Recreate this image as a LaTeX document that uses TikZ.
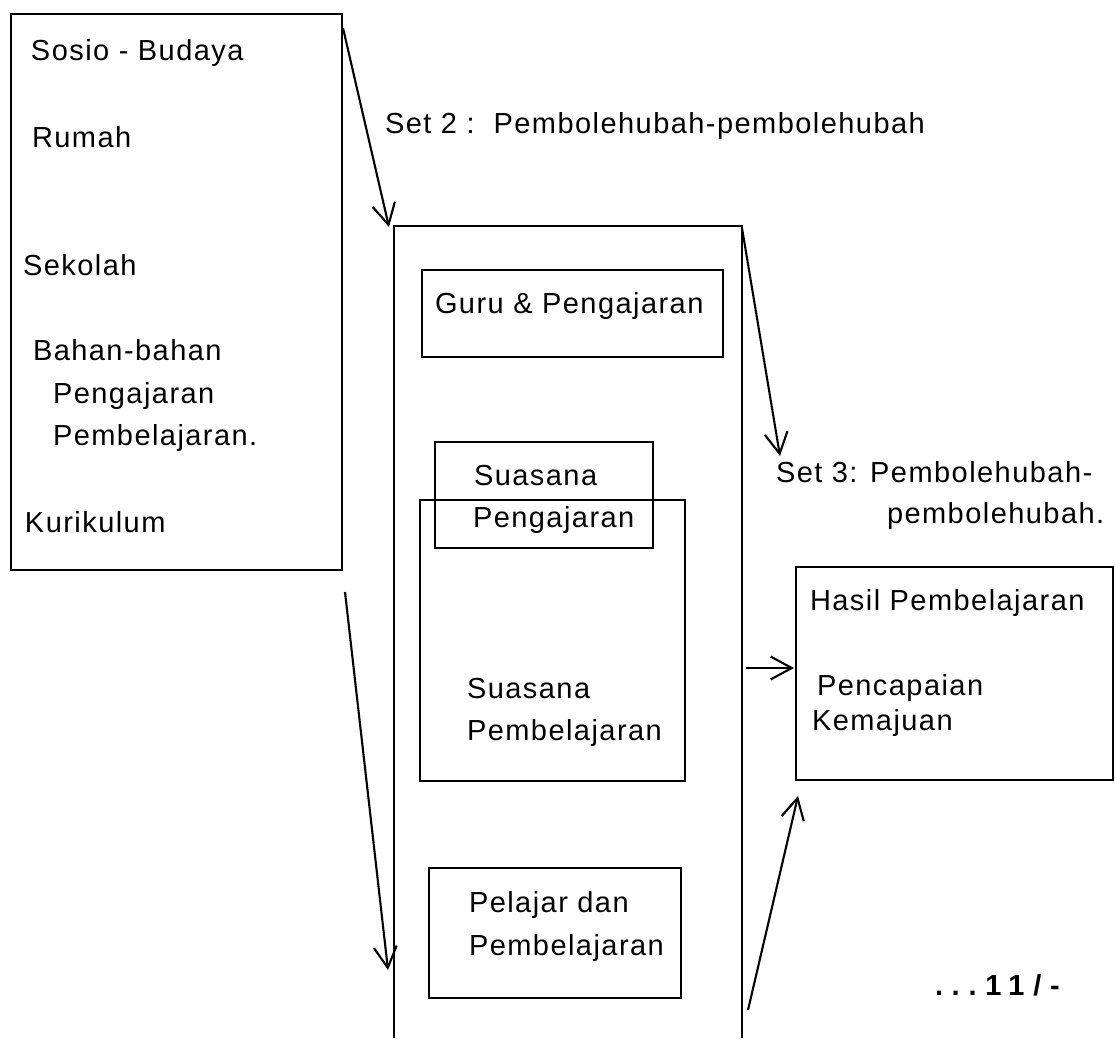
\documentclass[tikz,border=0pt]{standalone}
\usepackage{fontspec}
\setmainfont{Liberation Sans}[LetterSpace=5]
\usetikzlibrary{arrows.meta,fit}
\begin{document}
\begin{tikzpicture}[x=0.02cm,y=-0.02cm,
  every node/.style={inner sep=0pt,outer sep=0pt},
  txt/.style={anchor=base west,font=\fontsize{16.5}{20}\selectfont},
  boxx/.style={draw,line width=1.2pt,inner sep=0pt},
  conn/.style={line width=1.2pt,-{Straight Barb[length=12pt,width=13pt,line width=1.2pt]}}]
\useasboundingbox (0,0) rectangle (1115,1038);
% boxes
\node[boxx,fit={(11,14)(342,570)}] (L) {};
\node[fit={(394,226)(742,1038)}] (M) {};
\draw[line width=1.2pt] (394,1038) -- (394,226) -- (742,226) -- (742,1038);
\node[boxx,fit={(422,270)(723,357)}] (G) {};
\node[boxx,fit={(420,500)(685,781)}] (SPb) {};
\node[boxx,fit={(435,442)(653,548)}] (SPg) {};
\node[boxx,fit={(429,868)(681,998)}] (P) {};
\node[boxx,fit={(796,567)(1113,780)}] (H) {};
% texts left box
\node[txt] (t1) at (31,60) {Sosio - Budaya};
\node[txt] (t2) at (32,147) {Rumah};
\node[txt] (t3) at (23,275) {Sekolah};
\node[txt] (t4) at (33,360) {Bahan-bahan};
\node[txt] (t5) at (53,403) {Pengajaran};
\node[txt] (t6) at (53,445) {Pembelajaran.};
\node[txt] (t7) at (25,532) {Kurikulum};
% set labels
\node[txt] (s2) at (385,133) {Set 2 :\ \ Pembolehubah-pembolehubah};
\node[txt] (s3a) at (776,482) {Set 3: Pembolehubah-};
\node[txt] (s3b) at (887,523) {pembolehubah.};
% middle texts
\node[txt] (g1) at (435,313) {Guru \& Pengajaran};
\node[txt] (sp1) at (474,485) {Suasana};
\node[txt] (sp2) at (473,527) {Pengajaran};
\node[txt] (sb1) at (467,698) {Suasana};
\node[txt] (sb2) at (467,740) {Pembelajaran};
\node[txt] (p1) at (469,912) {Pelajar dan};
\node[txt] (p2) at (469,955) {Pembelajaran};
% right texts
\node[txt] (h1) at (810,610) {Hasil Pembelajaran};
\node[txt] (h2) at (817,695) {Pencapaian};
\node[txt] (h3) at (812,730) {Kemajuan};
\node[txt,font=\fontsize{16.5}{20}\selectfont\bfseries\addfontfeature{LetterSpace=30}] (pg) at (935,995) {...11/-};
% connector endpoints
\coordinate (a1s) at (343,28);
\coordinate (a1e) at (389,227);
\coordinate (a2s) at (345,592);
\coordinate (a2e) at (388,970);
\coordinate (a3s) at (742,228);
\coordinate (a3e) at (780,456);
\coordinate (a4s) at (746,668);
\coordinate (a4e) at (794,668);
\coordinate (a5s) at (748,1010);
\coordinate (a5e) at (798,796);
\draw[conn] (a1s) -- (a1e);
\draw[conn] (a2s) -- (a2e);
\draw[conn] (a3s) -- (a3e);
\draw[conn] (a4s) -- (a4e);
\draw[conn] (a5s) -- (a5e);
\end{tikzpicture}
\end{document}
